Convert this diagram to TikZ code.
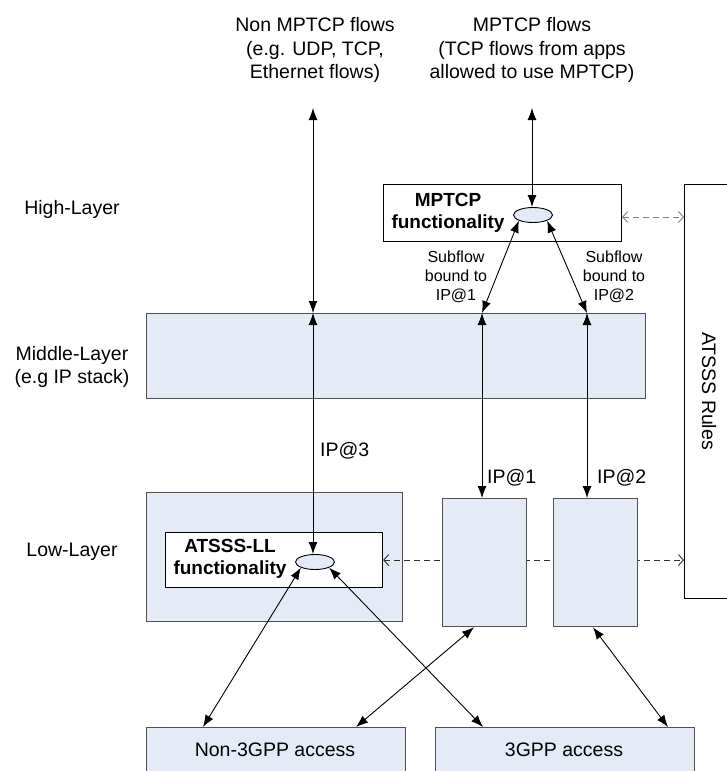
\documentclass[tikz,border=0pt]{standalone}
\usepackage{fontspec}
\setmainfont{Liberation Sans}
\usetikzlibrary{arrows.meta,shapes.geometric}

\definecolor{boxfill}{HTML}{E4EBF6}
\definecolor{boxline}{HTML}{505050}
\definecolor{dashline}{HTML}{303030}

\tikzset{
  layerbox/.style={draw=boxline, line width=1.3pt, fill=boxfill, rectangle, inner sep=0pt, anchor=north west},
  funcbox/.style={draw=black, line width=1.1pt, fill=white, rectangle, inner sep=0pt, anchor=north west},
  hub/.style={draw=black, line width=0.9pt, fill=boxfill, ellipse, inner sep=0pt, minimum width=39pt, minimum height=15pt},
  biarrow/.style={line width=0.9pt, {Latex[length=12pt,width=9pt]}-{Latex[length=12pt,width=9pt]}},
  rulelink/.style={line width=0.9pt, draw=dashline, dash pattern=on 6pt off 4pt, {Straight Barb[length=5pt,width=11pt]}-{Straight Barb[length=5pt,width=11pt]}},
  txt/.style={font=\fontsize{19.5}{23.5}\selectfont, align=center, inner sep=0pt},
  smalltxt/.style={font=\fontsize{16}{19}\selectfont, align=center, inner sep=0pt},
  boldtxt/.style={font=\fontsize{19}{22.5}\selectfont\bfseries, align=center, inner sep=0pt}
}

\begin{document}
\begin{tikzpicture}[x=1pt, y=-1pt]
\useasboundingbox (0,0) rectangle (727,771);

% layer names on the left
\node[txt] (hl) at (72,209) {High-Layer};
\node[txt] (ml) at (72,367) {Middle-Layer\\(e.g IP stack)};
\node[txt] (ll-name) at (72,552) {Low-Layer};

% flow descriptions at the top
\node[txt] (nonflows) at (315,50) {Non MPTCP flows\\(e.g. UDP, TCP,\\Ethernet flows)};
\node[txt] (mpflows) at (532,50) {MPTCP flows\\(TCP flows from apps\\allowed to use MPTCP)};
\coordinate (topL) at (313,108);
\coordinate (topR) at (532,108);

% high layer: MPTCP functionality
\node[funcbox, minimum width=238pt, minimum height=57pt] (mptcp) at (383,184) {};
\node[boldtxt] (mptcpT) at (448,213) {MPTCP\\functionality};
\node[hub] (mptcpE) at (533,215) {};

% ATSSS rules column
\node[funcbox, minimum width=60pt, minimum height=414pt] (rules) at (684,184) {};
\node[txt, rotate=-90] (rulesT) at (709,391) {ATSSS Rules};

% middle layer
\node[layerbox, minimum width=499pt, minimum height=85pt] (mid) at (146,313) {};

% low layer
\node[layerbox, minimum width=256pt, minimum height=129pt] (low) at (146,492) {};
\node[funcbox, minimum width=217pt, minimum height=55pt] (ll) at (165,532) {};
\node[boldtxt] (llT) at (230,559) {ATSSS-LL\\functionality};
\node[hub] (llE) at (315,562) {};

% link between ATSSS-LL and the rules (runs behind the IP boxes)
\draw[rulelink] (ll.east) -- (rules.west |- ll.east);

\node[layerbox, minimum width=84pt, minimum height=128pt] (ip1) at (442,498) {};
\node[layerbox, minimum width=84pt, minimum height=128pt] (ip2) at (553,498) {};

% access networks
\node[layerbox, minimum width=259pt, minimum height=60pt] (non3) at (146,727) {};
\node[txt] (non3T) at (275,750) {Non-3GPP access};
\node[layerbox, minimum width=259pt, minimum height=60pt] (g3) at (435,727) {};
\node[txt] (g3T) at (564,750) {3GPP access};

% helper x positions
\coordinate (c1) at (482,0);
\coordinate (c2) at (587,0);
\coordinate (xa) at (203,0);
\coordinate (xb) at (474,0);
\coordinate (xc) at (356,0);
\coordinate (xd) at (483,0);
\coordinate (xe) at (593,0);
\coordinate (xf) at (668,0);
\coordinate (d1) at (0,217);

% MPTCP to the rules
\draw[rulelink, draw=gray] (mptcp.east |- d1) -- (rules.west |- d1);

% non-MPTCP flows
\draw[biarrow] (topL) -- (mid.north -| topL);
\draw[biarrow] (mid.north -| topL) -- (llE.north -| topL);

% MPTCP flows and subflows
\draw[biarrow] (topR) -- (mptcpE.north -| topR);
\draw[biarrow] (mptcpE.south west) -- (mid.north -| c1);
\draw[biarrow] (mptcpE.south east) -- (mid.north -| c2);
\draw[biarrow] (mid.north -| c1) -- (ip1.north -| c1);
\draw[biarrow] (mid.north -| c2) -- (ip2.north -| c2);

\node[smalltxt] (sf1) at (456,277) {Subflow\\bound to\\IP@1};
\node[smalltxt] (sf2) at (614,277) {Subflow\\bound to\\IP@2};

% IP addresses
\node[txt, anchor=west] (ip3L) at (320,451) {IP@3};
\node[txt, anchor=west] (ip1L) at (487,478) {IP@1};
\node[txt, anchor=west] (ip2L) at (597,478) {IP@2};

% towards the access networks
\draw[biarrow] (llE.south west) -- (non3.north -| xa);
\draw[biarrow] (llE.south east) -- (g3.north -| xd);
\draw[biarrow] (ip1.south -| xb) -- (non3.north -| xc);
\draw[biarrow] (ip2.south -| xe) -- (g3.north -| xf);
\end{tikzpicture}
\end{document}
